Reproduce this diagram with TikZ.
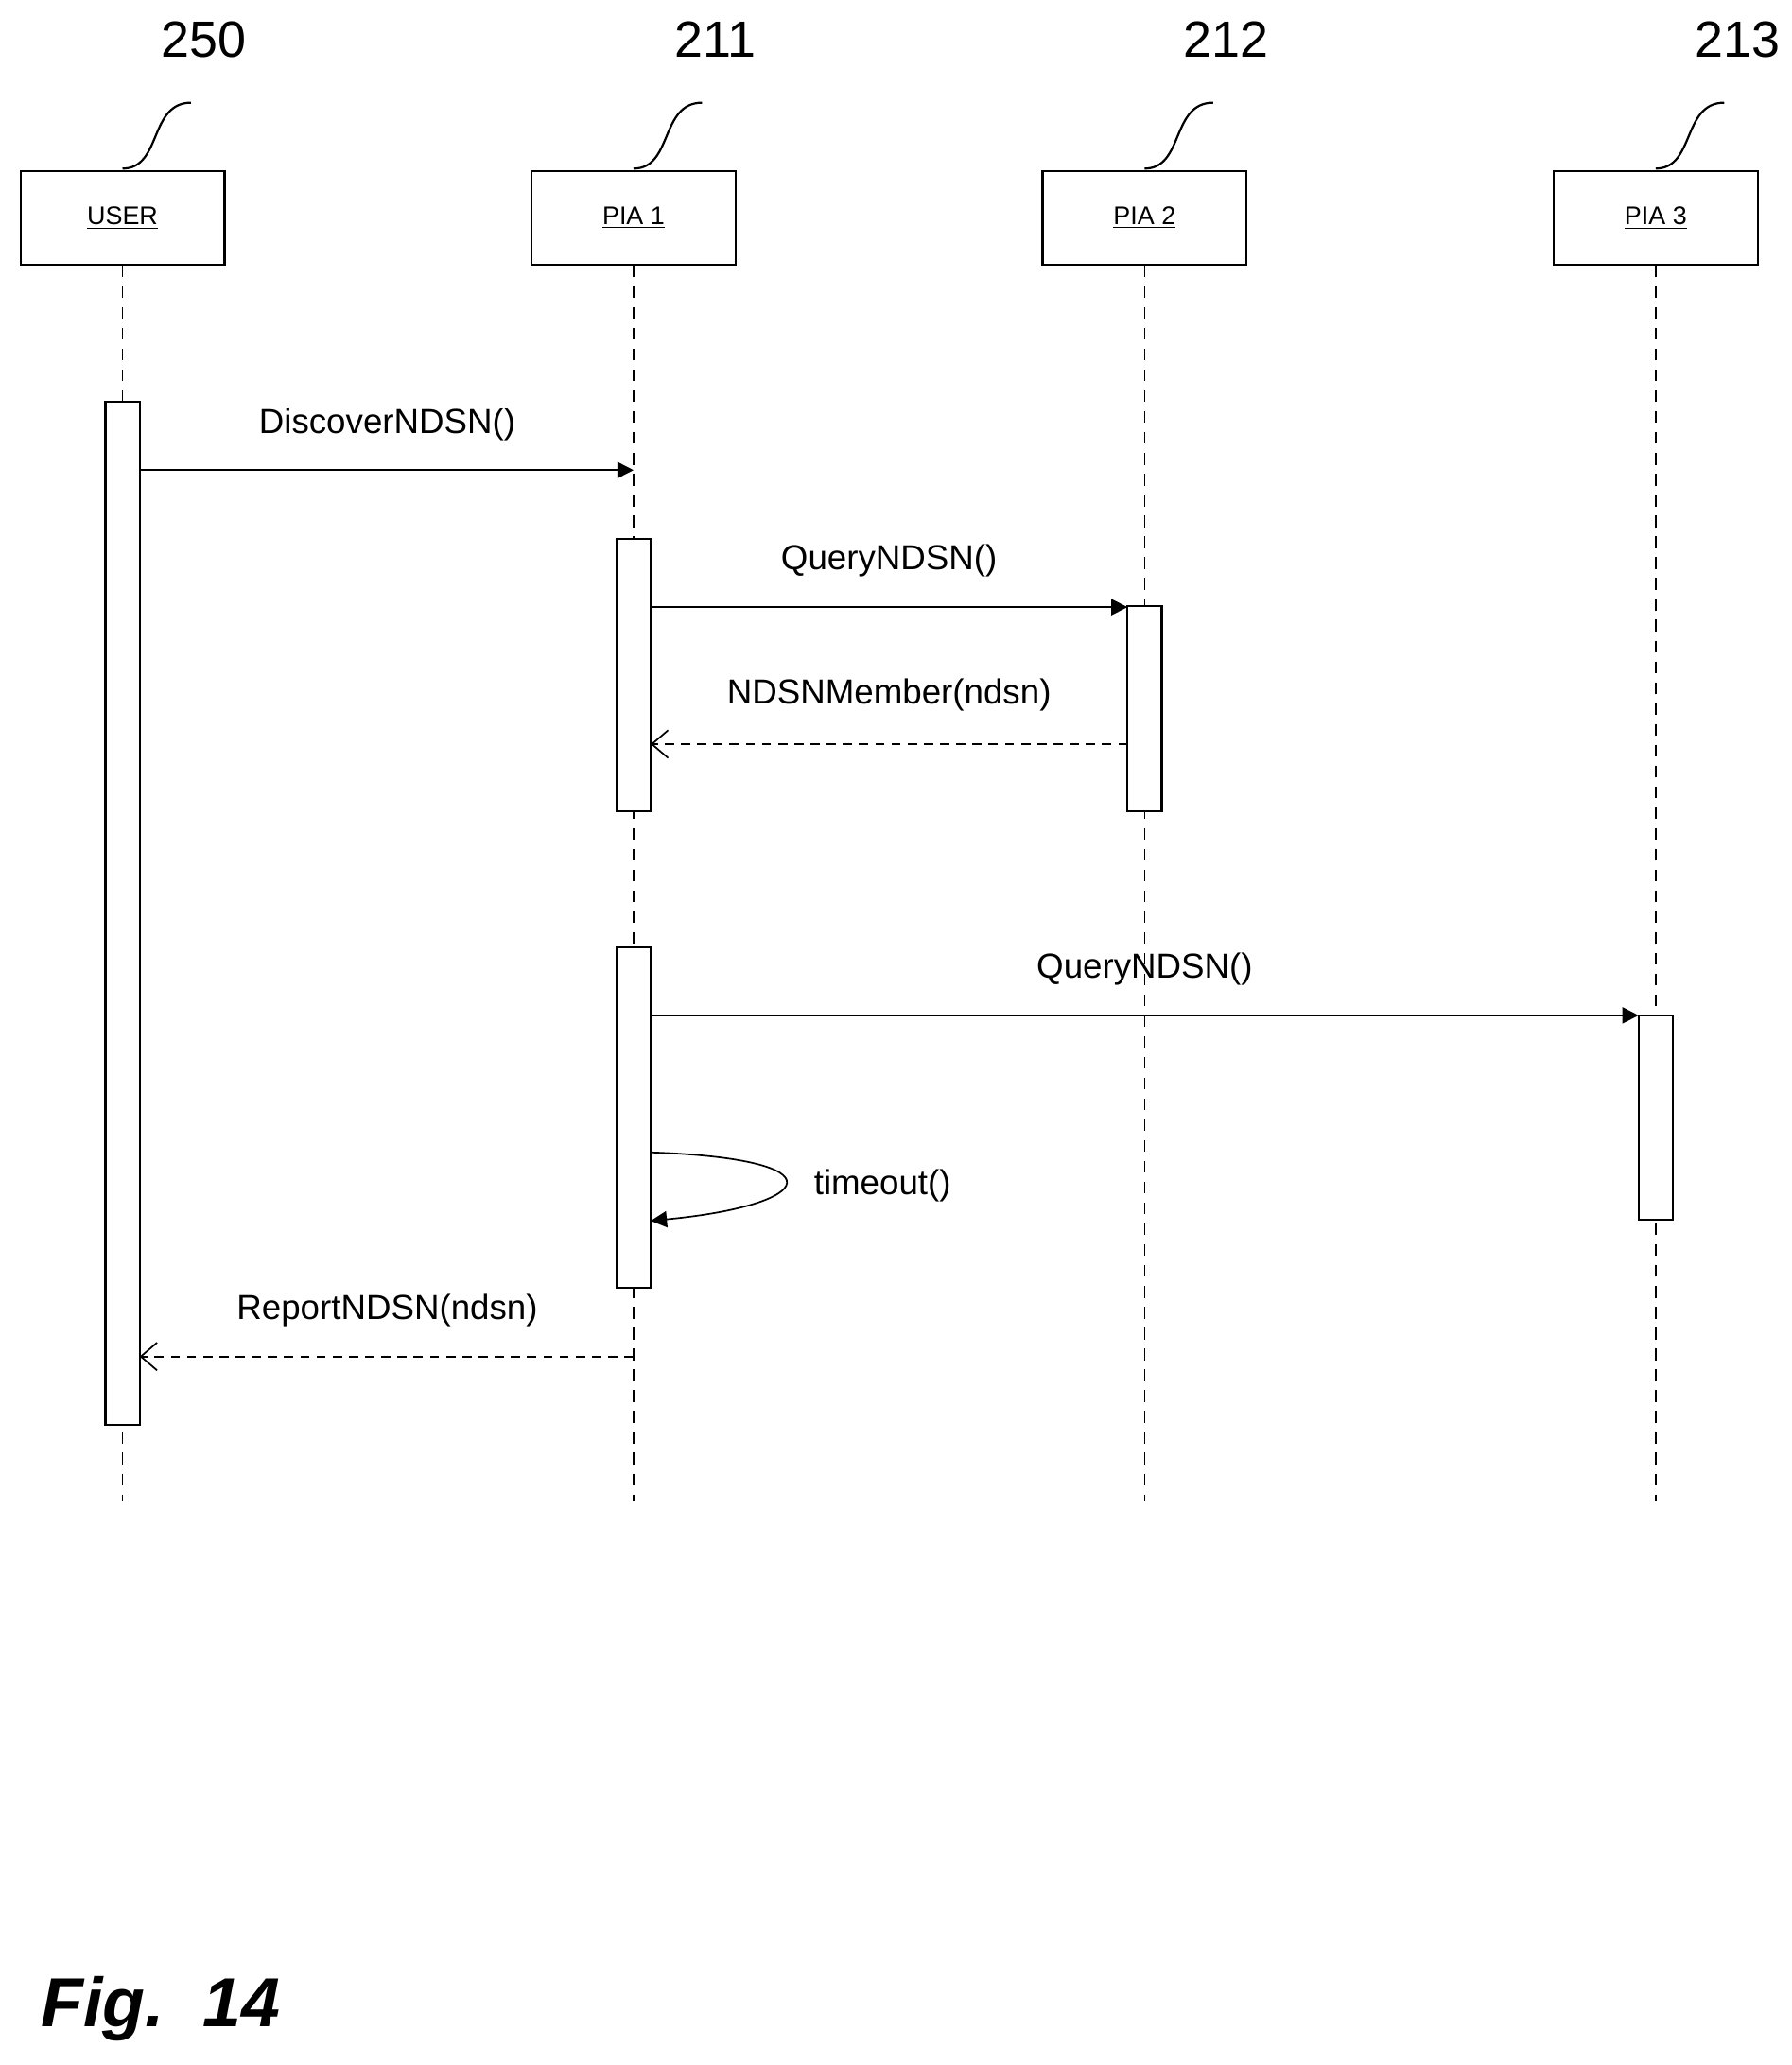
\documentclass[tikz,border=0pt]{standalone}
\usepackage{fontspec}
\setmainfont{Liberation Sans}
\usetikzlibrary{arrows.meta}
\begin{document}
\begin{tikzpicture}[x=0.02cm,y=-0.02cm,
 obj/.style={draw,line width=0.9pt,minimum width=3.1cm,minimum height=1.42cm,inner sep=0,font=\fontsize{11}{13}\selectfont},
 act/.style={draw,fill=white,line width=0.9pt},
 life/.style={dash pattern=on 5pt off 4pt,line width=0.7pt},
 msg/.style={line width=0.7pt,-{Triangle[length=7pt,width=7pt]}},
 ret/.style={line width=0.7pt,dash pattern=on 4pt off 3pt,-{Straight Barb[length=7pt,width=12pt]}},
 lab/.style={font=\fontsize{15}{18}\selectfont},
 num/.style={font=\fontsize{22}{26}\selectfont},
 sq/.style={line width=0.9pt}]
\useasboundingbox (0,0) rectangle (1360,1568);
\foreach \n/\x/\t/\r in {u/93/USER/250,a/481/PIA 1/211,b/869/PIA 2/212,c/1257/PIA 3/213}{
  \node[obj] (\n) at (\x,165.5) {\underline{\t}};
  \coordinate (\n e) at (\x,1140);
  \draw[life] (\n.south) -- (\n e);
  \node[num] (\n num) at (\x+62,30) {\r};
  \draw[sq] (\x,128) .. controls (\x+30,128) and (\x+20,78) .. (\x+52,78);
}
\draw[act] (80,305) rectangle (106,1082);
\draw[act] (468,409) rectangle (494,616);
\draw[act] (468,719) rectangle (494,978);
\draw[act] (856,460) rectangle (882,616);
\draw[act] (1244,771) rectangle (1270,926);
\coordinate (m1s) at (106,357); \coordinate (m1e) at (481,357);
\draw[msg] (m1s) -- (m1e);
\node[lab] (l1) at (294,322) {DiscoverNDSN()};
\coordinate (m2s) at (494,461); \coordinate (m2e) at (856,461);
\draw[msg] (m2s) -- (m2e);
\node[lab] (l2) at (675,426) {QueryNDSN()};
\coordinate (m3s) at (856,565); \coordinate (m3e) at (494,565);
\draw[ret] (m3s) -- (m3e);
\node[lab] (l3) at (675,528) {NDSNMember(ndsn)};
\coordinate (m4s) at (494,771); \coordinate (m4e) at (1244,771);
\draw[msg] (m4s) -- (m4e);
\node[lab] (l4) at (869,736) {QueryNDSN()};
\coordinate (t1) at (494,875); \coordinate (t2) at (494,927);
\draw[msg] (t1) .. controls (640,880) and (620,915) .. (t2);
\node[lab] (l5) at (670,900) {timeout()};
\coordinate (m5s) at (481,1030); \coordinate (m5e) at (106,1030);
\draw[ret] (m5s) -- (m5e);
\node[lab] (l6) at (294,995) {ReportNDSN(ndsn)};
\node[font=\fontsize{30}{34}\selectfont\itshape\bfseries,anchor=west] (fig) at (25,1525) {Fig.\ \ 14};
\end{tikzpicture}
\end{document}
